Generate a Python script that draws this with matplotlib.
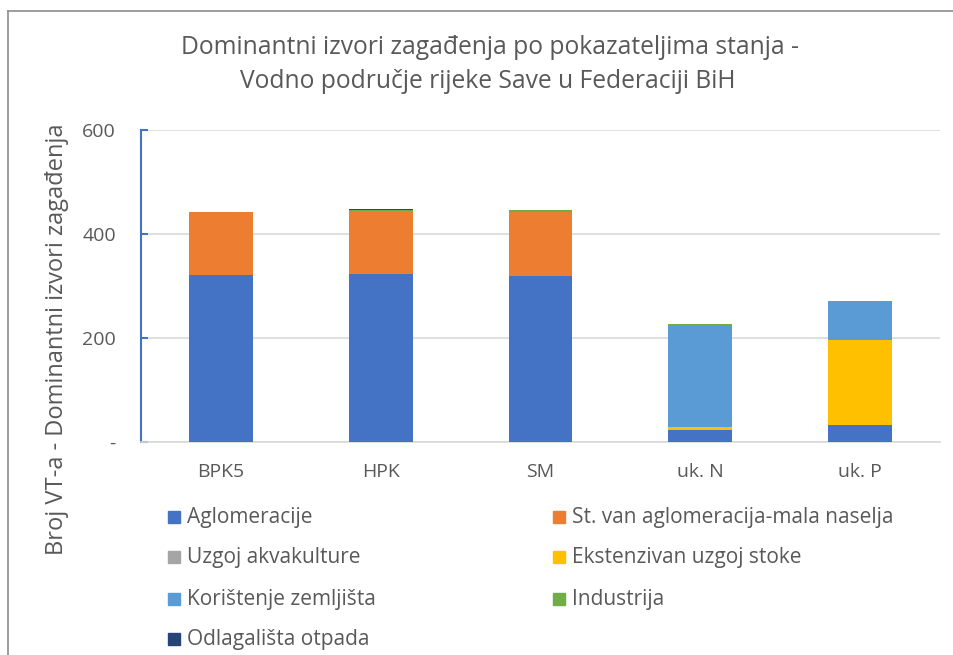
import matplotlib
matplotlib.use("Agg")
import matplotlib.pyplot as plt
from matplotlib.patches import Rectangle
from matplotlib.lines import Line2D
import numpy as np

plt.rcParams['font.family'] = ['Open Sans', 'DejaVu Sans']

categories = ["BPK5", "HPK", "SM", "uk. N", "uk. P"]
series_names = ["Aglomeracije", "St. van aglomeracija-mala naselja", "Uzgoj akvakulture",
                "Ekstenzivan uzgoj stoke", "Korištenje zemljišta", "Industrija",
                "Odlagališta otpada"]
aglomeracije = [321, 324, 319, 23, 33]
st_van = [121, 120, 123, 0, 0]
akvakultura = [0, 0, 0, 0, 0]
stoka = [0, 0, 0, 6, 163]
zemljiste = [0, 0, 0, 196, 75]
industrija = [0, 3, 4, 1, 0]
otpad = [0, 1, 0, 0, 0]
colors = ["#4472C4", "#ED7D31", "#A5A5A5", "#FFC000", "#5B9BD5", "#70AD47", "#264478"]
yticks = [0, 200, 400, 600]
ytick_labels = ["-", "200", "400", "600"]

series = [aglomeracije, st_van, akvakultura, stoka, zemljiste, industrija, otpad]

W, H = 954, 655
fig = plt.figure(figsize=(W / 100, H / 100), dpi=100)
ax = fig.add_axes([141 / W, 1 - 442 / H, (940 - 141) / W, (442 - 130) / H])

x = np.arange(len(categories))
bottom = np.zeros(len(categories))
for vals, c in zip(series, colors):
    v = np.array(vals, dtype=float)
    ax.bar(x, v, 0.4, bottom=bottom, color=c, zorder=3)
    bottom += v

ax.set_xlim(-0.5, len(categories) - 0.5)
ax.set_ylim(0, 600)
ax.set_yticks(yticks)
ax.set_yticklabels(ytick_labels)
ax.set_xticks(x)
ax.set_xticklabels(categories)
ax.grid(axis='y', color='#D9D9D9', linewidth=1.2, zorder=0)
for s in ['top', 'right']:
    ax.spines[s].set_visible(False)
ax.spines['bottom'].set_color('#D9D9D9')
ax.spines['bottom'].set_linewidth(1.2)
ax.spines['left'].set_color('#4472C4')
ax.spines['left'].set_linewidth(1.5)
ax.tick_params(axis='y', direction='in', length=5, color='#4472C4', width=1.5,
               labelsize=14, labelcolor='#595959', pad=18)
ax.tick_params(axis='x', length=0, labelsize=14, labelcolor='#595959', pad=15)

fig.text(490 / W, 1 - 48 / H, "Dominantni izvori zagađenja po pokazateljima stanja -",
         ha='center', va='center', fontsize=17.7, color='#595959')
fig.text(488 / W, 1 - 82 / H, "Vodno područje rijeke Save u Federaciji BiH",
         ha='center', va='center', fontsize=17.7, color='#595959')
fig.text(57 / W, 1 - 339 / H, "Broj VT-a - Dominantni izvori zagađenja", rotation=90,
         ha='center', va='center', fontsize=17, color='#595959')

# legend (row-wise, two columns)
col_x = [168, 553]
row_y = [517, 557, 599, 639]
for i, (name, c) in enumerate(zip(series_names, colors)):
    r, ccol = divmod(i, 2)
    mx, my = col_x[ccol], row_y[r]
    fig.patches.append(Rectangle((mx / W, 1 - (my + 6) / H), 12 / W, 12 / H,
                                 transform=fig.transFigure, color=c))
    fig.text((mx + 19) / W, 1 - my / H, name, ha='left', va='center',
             fontsize=15, color='#595959')

# chart border
fig.lines.append(Line2D([8.5 / W, 8.5 / W], [0, 1 - 10.5 / H], transform=fig.transFigure,
                        color='#8C8C8C', linewidth=1.2))
fig.lines.append(Line2D([8.5 / W, 1], [1 - 10.5 / H, 1 - 10.5 / H], transform=fig.transFigure,
                        color='#8C8C8C', linewidth=1.2))

fig.savefig("out.png", dpi=100)
